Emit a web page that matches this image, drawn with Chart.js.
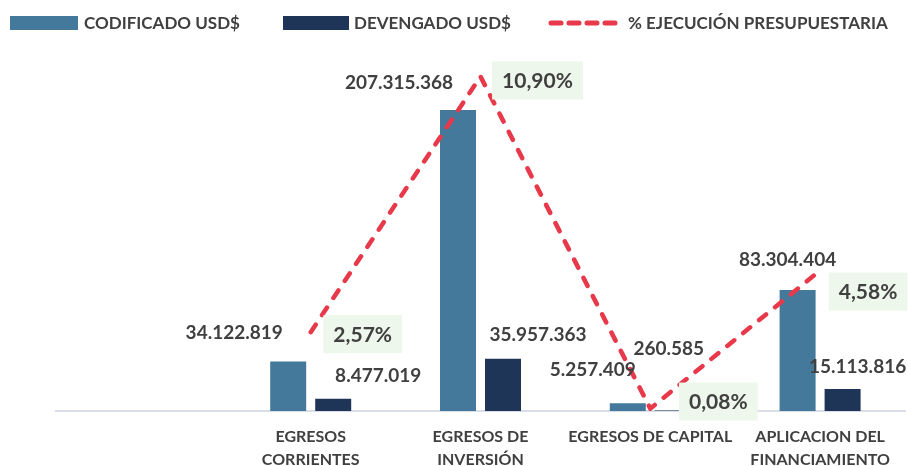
<!DOCTYPE html>
<html>
<head>
<meta charset="utf-8">
<script src="https://cdn.jsdelivr.net/npm/chart.js@4/dist/chart.umd.min.js"></script>
<style>
  html, body { margin: 0; padding: 0; background: #ffffff; }
  #wrap { width: 908px; height: 466px; position: relative; }
</style>
</head>
<body>
<div id="wrap"><canvas id="c" width="908" height="466"></canvas></div>
<script>
// ---- data ----
const categories = ['', ['EGRESOS', 'CORRIENTES'], ['EGRESOS DE', 'INVERSIÓN'], 'EGRESOS DE CAPITAL', ['APLICACION DEL', 'FINANCIAMIENTO']];
const codificado = [null, 34122819, 207315368, 5257409, 83304404];
const devengado = [null, 8477019, 35957363, 260585, 15113816];
const ejecucion = [null, 2.57, 10.90, 0.08, 4.58];
const seriesNames = ['CODIFICADO USD$', 'DEVENGADO USD$', '% EJECUCIÓN PRESUPUESTARIA'];

// ---- label placement (offsets from the mark, in px) ----
const codLabelOffsets = [null, [-54, -29], [-59, -27], [-35, -33], [-10, -30]];
const devLabelOffsets = [null, [45, -23], [35, -24], [-4, -62], [15, -22]];
const pctLabelOffsets = [null, [52, 2], [57, 4], [68, -7], [48, 21]];

const COL_COD = '#44799b';
const COL_DEV = '#1f3557';
const COL_LINE = '#e8394a';
const COL_TEXT = '#404040';
const FONT = 'Lato, "Open Sans", sans-serif';

function fmtNum(v) {
  return String(Math.round(v)).replace(/\B(?=(\d{3})+(?!\d))/g, '.');
}
function fmtPct(v) {
  return v.toFixed(2).replace('.', ',') + '%';
}

const labelPlugin = {
  id: 'labels',
  afterDatasetsDraw(chart) {
    const ctx = chart.ctx;
    ctx.save();
    ctx.textAlign = 'center';
    ctx.textBaseline = 'middle';
    // bar value labels
    ctx.font = 'bold 19px ' + FONT;
    ctx.fillStyle = COL_TEXT;
    [[1, codificado, codLabelOffsets], [2, devengado, devLabelOffsets]].forEach(([di, vals, offs]) => {
      const meta = chart.getDatasetMeta(di);
      vals.forEach((v, i) => {
        if (v == null) return;
        const el = meta.data[i];
        ctx.fillText(fmtNum(v), el.x + offs[i][0], el.y + offs[i][1]);
      });
    });
    // percentage labels with boxes
    const lmeta = chart.getDatasetMeta(0);
    ctx.font = 'bold 21px ' + FONT;
    ejecucion.forEach((v, i) => {
      if (v == null) return;
      const el = lmeta.data[i];
      const t = fmtPct(v);
      const cx = el.x + pctLabelOffsets[i][0];
      const cy = el.y + pctLabelOffsets[i][1];
      const w = ctx.measureText(t).width + 20;
      const h = 38;
      ctx.fillStyle = '#eef7eb';
      ctx.fillRect(cx - w / 2, cy - h / 2, w, h);
      ctx.fillStyle = COL_TEXT;
      ctx.fillText(t, cx, cy + 1);
    });
    ctx.restore();
  },
  afterDraw(chart) {
    // legend
    const ctx = chart.ctx;
    ctx.save();
    ctx.font = 'bold 17px ' + FONT;
    ctx.textBaseline = 'middle';
    ctx.textAlign = 'left';
    const y = 23;
    const starts = [10, 283, 548];
    // item 1
    ctx.fillStyle = COL_COD;
    ctx.fillRect(starts[0], y - 7, 68, 14);
    ctx.fillStyle = COL_TEXT;
    ctx.fillText(seriesNames[0], starts[0] + 74, y + 1);
    // item 2
    ctx.fillStyle = COL_DEV;
    ctx.fillRect(starts[1], y - 7, 66, 14);
    ctx.fillStyle = COL_TEXT;
    ctx.fillText(seriesNames[1], starts[1] + 71, y + 1);
    // item 3
    ctx.strokeStyle = COL_LINE;
    ctx.lineWidth = 5;
    ctx.lineCap = 'round';
    ctx.setLineDash([10, 8]);
    ctx.beginPath();
    ctx.moveTo(starts[2] + 3, y);
    ctx.lineTo(starts[2] + 70, y);
    ctx.stroke();
    ctx.setLineDash([]);
    ctx.fillStyle = COL_TEXT;
    ctx.fillText(seriesNames[2], starts[2] + 80, y + 1);
    ctx.restore();
  }
};

new Chart(document.getElementById('c'), {
  data: {
    labels: categories,
    datasets: [
      {
        type: 'line',
        label: seriesNames[2],
        data: ejecucion,
        yAxisID: 'y1',
        borderColor: COL_LINE,
        borderWidth: 4.5,
        borderDash: [9, 11.5],
        borderCapStyle: 'round',
        pointRadius: 0,
        tension: 0,
        fill: false,
        order: 0
      },
      {
        type: 'bar',
        label: seriesNames[0],
        data: codificado,
        backgroundColor: COL_COD,
        categoryPercentage: 0.53,
        barPercentage: 0.8,
        yAxisID: 'y',
        order: 1
      },
      {
        type: 'bar',
        label: seriesNames[1],
        data: devengado,
        backgroundColor: COL_DEV,
        categoryPercentage: 0.53,
        barPercentage: 0.8,
        yAxisID: 'y',
        order: 2
      }
    ]
  },
  options: {
    responsive: false,
    animation: false,
    devicePixelRatio: 1,
    layout: { padding: { top: 48, left: 56, right: 3, bottom: 0 } },
    plugins: {
      legend: { display: false },
      tooltip: { enabled: false }
    },
    scales: {
      x: {
        grid: { display: false, drawTicks: false },
        border: { display: true, color: '#d9dee6', width: 2 },
        ticks: {
          color: COL_TEXT,
          font: { family: FONT, size: 16, weight: 'bold', lineHeight: 1.4 },
          padding: 15,
          maxRotation: 0,
          autoSkip: false
        },
        afterFit(scale) { scale.height = 55; }
      },
      y: { display: false, min: 0, max: 250000000 },
      y1: { display: false, min: 0, max: 11.83, position: 'right' }
    }
  },
  plugins: [labelPlugin]
});
</script>
</body>
</html>
